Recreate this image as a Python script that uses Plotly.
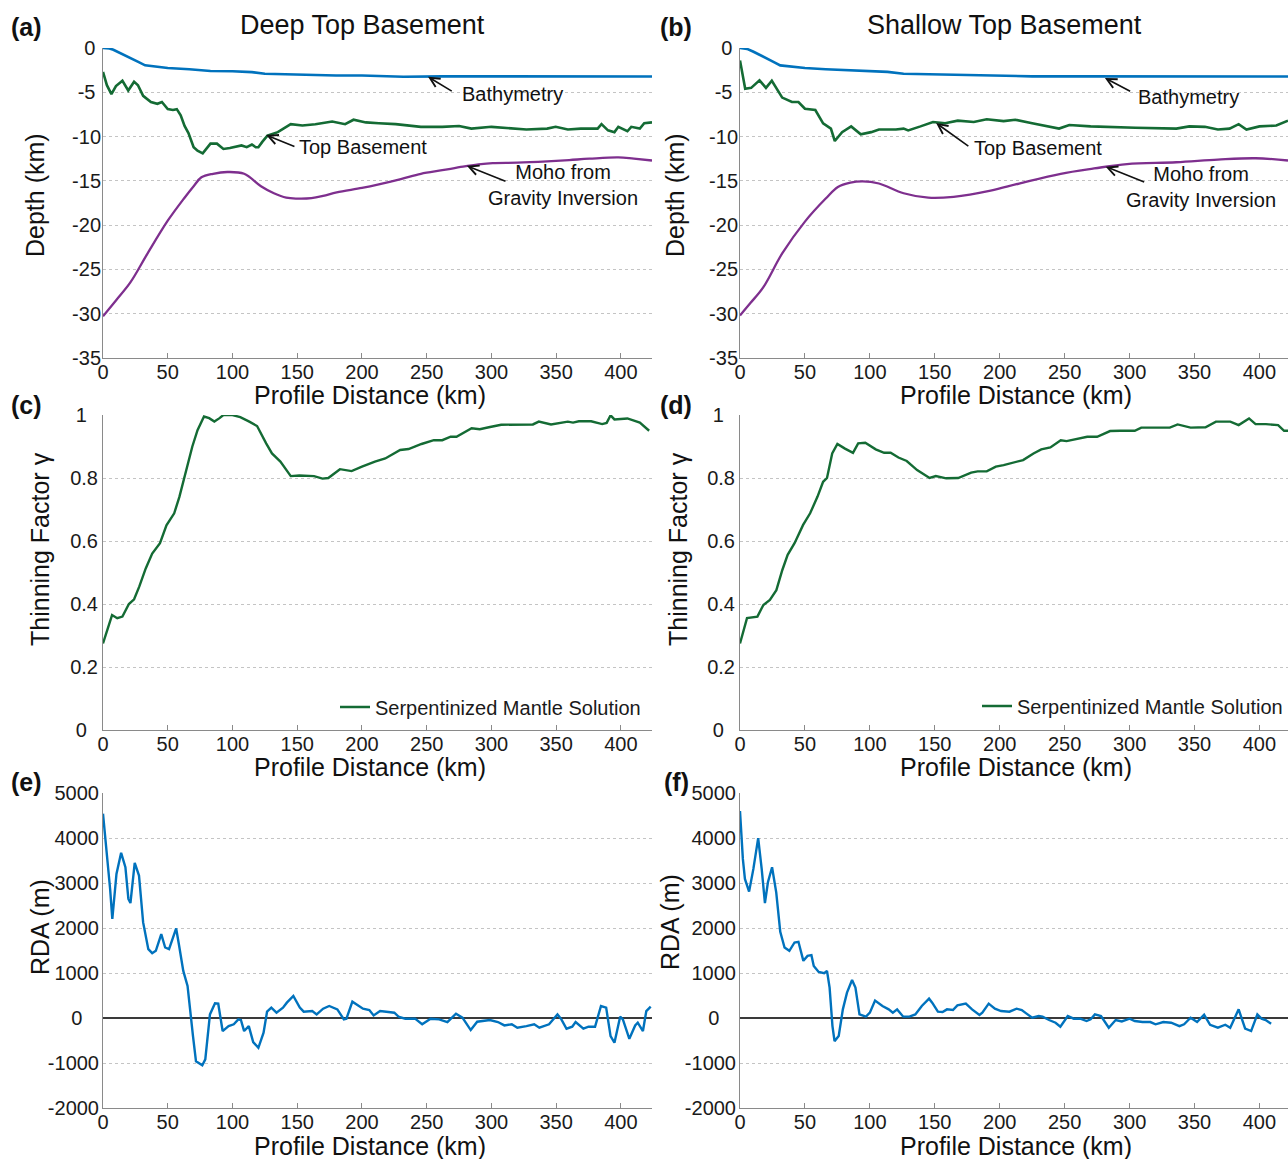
import plotly.graph_objects as go

# ---------------- data ----------------
km_ticks = [0, 50, 100, 150, 200, 250, 300, 350, 400]

depth_ticks = [0, -5, -10, -15, -20, -25, -30, -35]
depth_labels = ["0\u00a0", "-5\u00a0", "-10", "-15", "-20", "-25", "-30", "-35"]
gamma_ticks = [1, 0.8, 0.6, 0.4, 0.2, 0]
gamma_labels = ["1\u00a0\u00a0", "0.8", "0.6", "0.4", "0.2", "0\u00a0\u00a0"]
rda_ticks = [5000, 4000, 3000, 2000, 1000, 0, -1000, -2000]
rda_labels = ["5000", "4000", "3000", "2000", "1000", "0\u00a0\u00a0\u00a0", "-1000", "-2000"]

# (a) Deep top basement
bathy_a_x = [0, 5, 8, 14.6, 21, 27.6, 32.5, 40, 50, 66.7, 83, 100, 115, 125, 148, 180, 200, 232, 262, 300, 350, 400, 424]
bathy_a_y = [0, -0.05, -0.2, -0.64, -1.1, -1.6, -1.96, -2.1, -2.26, -2.4, -2.6, -2.62, -2.72, -2.9, -3.0, -3.1, -3.1, -3.25, -3.2, -3.2, -3.22, -3.22, -3.22]
tb_a_x = [0, 3, 6.5, 10, 15, 19.5, 24, 27, 31, 37, 42, 45.5, 50, 54, 57, 60, 63, 66, 70, 73, 77, 80, 83, 88, 93, 98, 102, 107, 111, 115, 118, 120, 123, 127, 135, 145, 154, 164, 177, 187, 193.5, 203, 213, 226, 245.5, 262, 275, 284.5, 300, 315, 327, 343, 349.6, 359, 369, 382, 385, 390, 395, 398, 405, 408, 414.6, 418, 424]
tb_a_y = [-2.7, -4.2, -5.2, -4.3, -3.7, -4.8, -3.8, -4.2, -5.4, -6.1, -6.3, -6.1, -6.9, -7.0, -6.9, -7.6, -8.8, -9.6, -11.2, -11.6, -11.9, -11.4, -10.8, -10.8, -11.4, -11.3, -11.2, -11.0, -11.2, -10.9, -11.2, -11.2, -10.6, -9.9, -9.5, -8.6, -8.75, -8.6, -8.3, -8.6, -8.1, -8.4, -8.5, -8.6, -8.9, -8.9, -8.8, -9.1, -8.9, -9.1, -9.2, -9.1, -8.9, -9.2, -9.1, -9.1, -8.6, -9.3, -9.5, -8.9, -9.4, -8.9, -9.1, -8.5, -8.4]
moho_a_x = [0, 10, 21, 34, 50, 63, 70, 76, 85, 96, 109, 122, 132, 141.5, 150, 161, 170, 180.5, 200, 213, 230, 245.5, 262, 278, 290, 301, 320, 343, 360, 375.6, 398, 410, 424]
moho_a_y = [-30.3, -28.5, -26.5, -23.3, -19.5, -16.9, -15.6, -14.6, -14.2, -14.0, -14.2, -15.6, -16.4, -16.9, -17.0, -16.95, -16.7, -16.3, -15.8, -15.4, -14.8, -14.2, -13.8, -13.4, -13.15, -13.0, -12.95, -12.8, -12.65, -12.5, -12.35, -12.5, -12.7]

# (b) Shallow top basement
bathy_b_x = [0, 5.4, 10, 18, 25, 31, 40, 50, 66, 82, 100, 113.6, 126, 152, 184, 225, 260, 300, 350, 400, 422]
bathy_b_y = [0, -0.1, -0.4, -0.95, -1.5, -1.96, -2.1, -2.26, -2.4, -2.5, -2.6, -2.7, -2.9, -3.0, -3.1, -3.2, -3.2, -3.2, -3.22, -3.22, -3.22]
tb_b_x = [0, 4, 8.6, 15, 20, 24.5, 32.5, 40, 45, 50, 58, 64, 70, 73, 78.6, 85.6, 93, 101, 107, 120, 126, 129.5, 139, 148.6, 158, 167.7, 180, 190, 203, 212, 225, 245.7, 253.6, 270, 304.5, 336, 346, 358, 368, 377, 384, 390, 400, 413, 422]
tb_b_y = [-1.4, -4.6, -4.5, -3.65, -4.5, -3.7, -5.6, -6.1, -6.1, -6.85, -7.0, -8.5, -9.1, -10.5, -9.5, -8.85, -9.75, -9.5, -9.2, -9.2, -9.1, -9.3, -8.85, -8.35, -8.5, -8.2, -8.35, -8.05, -8.25, -8.1, -8.5, -9.1, -8.7, -8.85, -9.0, -9.1, -8.85, -8.9, -9.2, -9.1, -8.6, -9.2, -8.85, -8.75, -8.2]
moho_b_x = [0, 8, 18, 32.5, 50, 66, 75.4, 85, 94.5, 107, 126, 145, 164.5, 193, 215, 247, 272.7, 298, 336, 368, 397, 422]
moho_b_y = [-30.2, -28.8, -27.0, -23.2, -19.6, -17.0, -15.7, -15.2, -15.05, -15.3, -16.4, -16.9, -16.8, -16.1, -15.3, -14.2, -13.6, -13.1, -12.9, -12.6, -12.45, -12.7]

# (c) thinning factor, deep
gam_c_x = [0, 7, 11, 15, 20, 24, 28, 33, 38, 44, 49, 55, 59, 64, 69, 73, 78, 82, 86, 90, 93, 100, 106, 113, 119, 126, 130.5, 137, 145, 151.6, 158, 163, 169.5, 174, 183, 192, 200, 210, 218, 229.5, 236, 246, 255.5, 262, 268.5, 273, 284.7, 291, 298, 307.5, 332, 336.6, 346, 359, 363, 367.5, 377, 385.5, 389, 392, 395, 405, 414.6, 421.8]
gam_c_y = [0.275, 0.365, 0.355, 0.36, 0.40, 0.415, 0.455, 0.513, 0.56, 0.593, 0.65, 0.688, 0.74, 0.825, 0.90, 0.952, 0.995, 0.99, 0.979, 0.99, 1.0, 1.0, 0.993, 0.979, 0.965, 0.91, 0.878, 0.852, 0.806, 0.808, 0.806, 0.806, 0.798, 0.80, 0.828, 0.822, 0.836, 0.852, 0.862, 0.889, 0.892, 0.908, 0.92, 0.92, 0.931, 0.931, 0.958, 0.955, 0.961, 0.969, 0.97, 0.979, 0.97, 0.979, 0.976, 0.98, 0.98, 0.971, 0.975, 0.999, 0.986, 0.989, 0.976, 0.95]

# (d) thinning factor, shallow
gam_d_x = [0, 5.4, 13.4, 18, 23, 28, 32.6, 36.7, 42, 48.6, 54, 59.7, 64, 67, 71, 75, 80.5, 87, 91, 96.5, 104.5, 111, 116, 122, 128.4, 136.4, 146, 150.8, 158.8, 168, 178, 183, 190, 197, 203, 210, 218, 226, 232, 239, 247, 251.5, 259.4, 267.4, 275, 285, 293, 304, 309, 331, 337, 347, 358.5, 366.5, 377.6, 384, 392, 397, 405, 414.4, 419, 423]
gam_d_y = [0.275, 0.355, 0.36, 0.397, 0.413, 0.444, 0.508, 0.556, 0.593, 0.651, 0.688, 0.741, 0.788, 0.80, 0.878, 0.908, 0.894, 0.88, 0.91, 0.912, 0.891, 0.88, 0.88, 0.865, 0.854, 0.825, 0.80, 0.806, 0.799, 0.80, 0.817, 0.821, 0.821, 0.836, 0.841, 0.849, 0.857, 0.878, 0.891, 0.897, 0.92, 0.917, 0.923, 0.931, 0.931, 0.949, 0.95, 0.95, 0.96, 0.96, 0.97, 0.96, 0.961, 0.979, 0.979, 0.968, 0.989, 0.971, 0.971, 0.968, 0.95, 0.95]

# (e) RDA, deep
rda_e_x = [0, 3.3, 5.5, 7.2, 10.4, 14, 17.3, 19.6, 21.2, 24.5, 27.8, 31, 35, 38, 40.8, 45, 48, 51, 56.5, 58.8, 62, 65.3, 67, 69.5, 71.8, 76.7, 79, 81, 82.6, 86.5, 89, 92.4, 97, 101, 104.5, 106.5, 109, 112.6, 116, 120, 124, 126.7, 130, 134, 139, 142, 147, 152, 155, 161.6, 165, 170, 174.7, 181, 186, 188, 192.6, 200.8, 205.7, 209, 214, 220.4, 225, 228.6, 233.5, 241, 246.5, 253, 259.6, 266, 272.6, 277.6, 284, 289, 298.8, 305, 310, 315.7, 320, 327, 333, 337, 344.5, 351, 354, 358, 362.4, 365, 371, 375, 380, 384.6, 388.6, 392, 395, 399.4, 401.5, 406.5, 411, 413, 417, 419.6, 423]
rda_e_y = [4540, 3610, 2867, 2200, 3200, 3670, 3350, 2645, 2555, 3447, 3165, 2124, 1530, 1440, 1493, 1864, 1567, 1530, 1990, 1604, 1047, 712, 192, -402, -960, -1050, -920, -328, 80, 326, 318, -290, -180, -140, -30, -45, -290, -180, -536, -662, -328, 140, 230, 118, 230, 341, 490, 230, 140, 155, 80, 207, 267, 192, -30, -15, 363, 207, 177, 58, 155, 133, 118, 22, -15, -15, -140, -15, -30, -90, 96, 7, -268, -83, -45, -90, -165, -140, -215, -180, -140, -215, -140, 80, -30, -238, -194, -90, -238, -194, -194, 267, 230, -402, -550, 30, -30, -462, -165, -105, -290, 155, 252]

# (f) RDA, shallow
rda_f_x = [0, 2.2, 3.8, 7, 10.3, 14, 16.7, 19.2, 21.5, 24.7, 27.9, 31, 34.3, 38, 42, 45, 48.8, 52, 55, 56.8, 60.6, 64.8, 67, 69, 71.2, 72.8, 76, 79.2, 82.4, 86.3, 88.9, 92, 97, 100, 104, 109.7, 114.5, 117.7, 121, 125.7, 130.5, 135, 140, 145.6, 148, 152.4, 156, 159.4, 164, 167.4, 173.9, 178.7, 184.4, 186.6, 191.5, 196.3, 201, 207.5, 213, 217, 220.4, 225, 230, 233, 238, 243, 246.7, 252.4, 257, 262, 266.9, 270, 273.3, 278, 284, 289.3, 294, 300, 304, 310, 316, 320, 326, 332, 338.4, 342, 347, 352, 357.4, 362, 368, 373.7, 377.5, 384, 389, 393.6, 398.4, 401.6, 404.8, 409]
rda_f_y = [4600, 3536, 3090, 2808, 3313, 3997, 3313, 2555, 3016, 3350, 2793, 1916, 1567, 1493, 1678, 1693, 1270, 1381, 1396, 1158, 1024, 995, 1047, 675, -180, -514, -402, 192, 564, 846, 675, 80, 30, 118, 386, 267, 192, 118, 192, 30, 30, 80, 267, 430, 341, 140, 133, 192, 177, 282, 319, 192, 66, 118, 319, 207, 155, 140, 207, 177, 103, 7, 44, 30, -45, -105, -194, 44, -15, -15, -68, -30, 80, 44, -215, -45, -75, -15, -68, -90, -90, -140, -90, -105, -180, -140, 7, -90, 73, -150, -215, -150, -215, 192, -238, -290, 80, -15, -45, -127]

# ---------------- figure ----------------
W, H = 1288, 1159
def PX(p):
    return p / W
def PY(p):
    return 1 - p / H

FONT = "Liberation Sans, Arial, sans-serif"
TXT = "#1a1a1a"
BLUE = "#0072BD"
GREEN = "#146b34"
PURPLE = "#7E2F8E"
AXC = "#8a8a8a"

fig = go.Figure()

def add(x, y, i, color, width, name=None, legend=None, shape="linear"):
    fig.add_trace(go.Scatter(
        x=x, y=y, mode="lines",
        line=dict(color=color, width=width, shape=shape),
        xaxis="x" if i == 1 else f"x{i}", yaxis="y" if i == 1 else f"y{i}",
        name=name or "", showlegend=legend is not None,
        legend=legend or "legend", cliponaxis=False, hoverinfo="skip"))

add(bathy_a_x, bathy_a_y, 1, BLUE, 2.6)
add(tb_a_x, tb_a_y, 1, GREEN, 2.6)
add(moho_a_x, moho_a_y, 1, PURPLE, 2.3, shape="spline")
add(bathy_b_x, bathy_b_y, 2, BLUE, 2.6)
add(tb_b_x, tb_b_y, 2, GREEN, 2.6)
add(moho_b_x, moho_b_y, 2, PURPLE, 2.3, shape="spline")
add(gam_c_x, gam_c_y, 3, GREEN, 2.4, name="Serpentinized Mantle Solution", legend="legend")
add(gam_d_x, gam_d_y, 4, GREEN, 2.4, name="Serpentinized Mantle Solution", legend="legend2")
add(rda_e_x, rda_e_y, 5, BLUE, 2.4)
add(rda_f_x, rda_f_y, 6, BLUE, 2.4)

col_dom = {0: [PX(103), PX(652)], 1: [PX(740), 1.0]}
col_rng = {0: [0, 424], 1: [0, 422]}
row_dom = {0: [PY(358), PY(48)], 1: [PY(730), PY(415)], 2: [PY(1108), PY(793)]}
row_y = {
    0: dict(range=[-35, 0], tickvals=depth_ticks, ticktext=depth_labels, zeroline=False,
            ticklabelstandoff=-3),
    1: dict(range=[0, 1], tickvals=gamma_ticks, ticktext=gamma_labels, zeroline=False,
            ticklabelstandoff=0),
    2: dict(range=[-2000, 5000], tickvals=rda_ticks, ticktext=rda_labels,
            zeroline=True, zerolinecolor="#3a3a3a", zerolinewidth=1.6, ticklabelstandoff=-1),
}

layout = dict(
    width=W, height=H, margin=dict(l=0, r=0, t=0, b=0, autoexpand=False),
    paper_bgcolor="white", plot_bgcolor="white",
    font=dict(family=FONT, size=20, color=TXT),
    showlegend=True,
)
for i in range(1, 7):
    r, c = (i - 1) // 2, (i - 1) % 2
    xs = "" if i == 1 else str(i)
    layout["xaxis" + xs] = dict(
        domain=col_dom[c], range=col_rng[c], anchor="y" + xs,
        tickvals=km_ticks, ticks="inside", ticklen=5, tickcolor=AXC,
        showline=True, linecolor=AXC, linewidth=1, showgrid=False, zeroline=False,
        ticklabelstandoff=-4, automargin=False,
        tickfont=dict(size=20, family=FONT, color=TXT), fixedrange=True)
    yd = dict(
        domain=row_dom[r], anchor="x" + xs, ticks="", automargin=False,
        showline=True, linecolor=AXC, linewidth=1,
        showgrid=True, gridcolor="#c4c4c4", griddash="dot", gridwidth=1,
        tickfont=dict(size=20, family=FONT, color=TXT), fixedrange=True)
    yd.update(row_y[r])
    layout["yaxis" + xs] = yd

layout["legend"] = dict(x=PX(646), xanchor="right", y=PY(707), yanchor="middle",
                        bgcolor="rgba(0,0,0,0)", font=dict(size=20, family=FONT, color=TXT),
                        borderwidth=0)
layout["legend2"] = dict(x=1.0, xanchor="right", y=PY(706), yanchor="middle",
                         bgcolor="rgba(0,0,0,0)", font=dict(size=20, family=FONT, color=TXT),
                         borderwidth=0)

ann = []
def ptext(text, x, y, size, bold=False, angle=0, xanchor="center"):
    ann.append(dict(text=f"<b>{text}</b>" if bold else text, x=PX(x), y=PY(y),
                    xref="paper", yref="paper", showarrow=False, textangle=angle,
                    xanchor=xanchor, yanchor="middle",
                    font=dict(size=size, family=FONT, color="#111")))

# panel titles / labels
ptext("Deep Top Basement", 362, 25, 27)
ptext("Shallow Top Basement", 1004, 25, 27)
for lab, x, y in [("(a)", 26, 27), ("(b)", 676, 27), ("(c)", 26, 405),
                  ("(d)", 676, 405), ("(e)", 26, 782), ("(f)", 676, 782)]:
    ptext(lab, x, y, 25, bold=True)
# axis titles
for y in (395, 767, 1146):
    ptext("Profile Distance (km)", 370, y, 25)
    ptext("Profile Distance (km)", 1016, y, 25)
ptext("Depth (km)", 35, 195, 25, angle=-90)
ptext("Depth (km)", 675, 195, 25, angle=-90)
ptext("Thinning Factor \u03b3", 40, 549, 25, angle=-90)
ptext("Thinning Factor \u03b3", 678, 549, 25, angle=-90)
ptext("RDA (m)", 40, 927, 25, angle=-90)
ptext("RDA (m)", 670, 922, 25, angle=-90)

# curve labels with arrows (data coordinates)
def dtext(text, i, x, y, xanchor="left"):
    xs = "" if i == 1 else str(i)
    ann.append(dict(text=text, x=x, y=y, xref="x" + xs, yref="y" + xs, showarrow=False,
                    xanchor=xanchor, yanchor="middle", align="center",
                    font=dict(size=20, family=FONT, color="#111")))

def arrow(i, hx, hy, tx, ty):
    xs = "" if i == 1 else str(i)
    ann.append(dict(text="", x=hx, y=hy, ax=tx, ay=ty, xref="x" + xs, yref="y" + xs,
                    axref="x" + xs, ayref="y" + xs, showarrow=True, arrowhead=5,
                    arrowsize=1.2, arrowwidth=1.6, arrowcolor="#111", standoff=0))

dtext("Bathymetry", 1, 276, -5.2)
arrow(1, 251, -3.24, 270.5, -4.97)
dtext("Top Basement", 1, 150, -11.2)
arrow(1, 126, -9.82, 149, -11.2)
dtext("Moho from<br>Gravity Inversion", 1, 355.5, -15.5, xanchor="center")
arrow(1, 281, -13.3, 312, -15.1)

dtext("Bathymetry", 2, 304.7, -5.53)
arrow(2, 281, -3.39, 301.6, -4.97)
dtext("Top Basement", 2, 179, -11.3)
arrow(2, 151, -8.47, 177, -11.2)
dtext("Moho from<br>Gravity Inversion", 2, 354.8, -15.7, xanchor="center")
arrow(2, 281.6, -13.4, 312.4, -15.2)

layout["annotations"] = ann
fig.update_layout(**layout)
fig.write_html("out.html")
